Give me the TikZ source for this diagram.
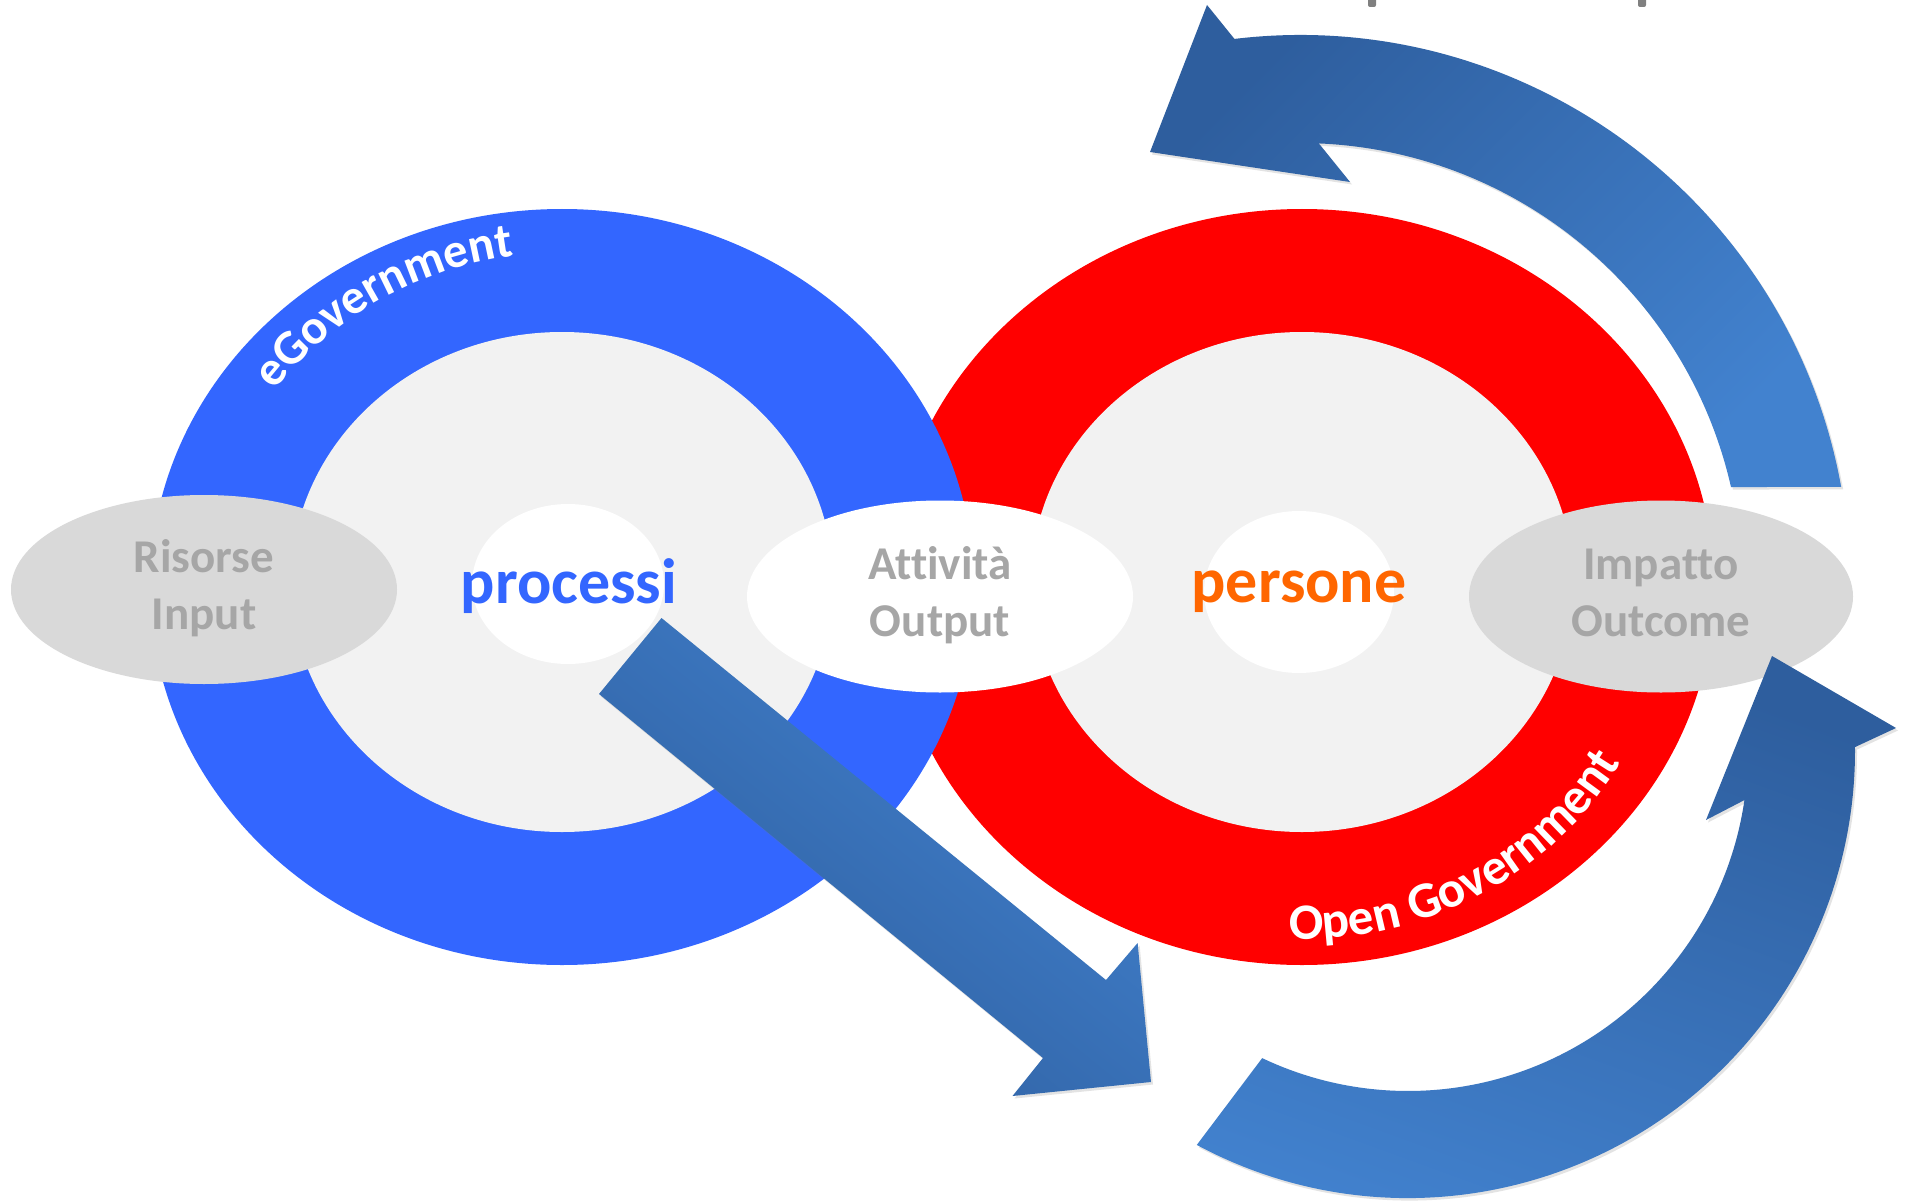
\documentclass[tikz,border=0pt]{standalone}
\usepackage{fontspec}
\setmainfont{Carlito}[Ligatures=NoCommon]
\usetikzlibrary{shapes.geometric,decorations.text,shadows}
\definecolor{ringblue}{HTML}{3366FF}
\definecolor{ringred}{HTML}{FF0000}
\definecolor{innergray}{HTML}{F2F2F2}
\definecolor{sidegray}{HTML}{D9D9D9}
\definecolor{labelgray}{HTML}{A6A6A6}
\definecolor{persorange}{HTML}{FF6600}
\definecolor{arrdark}{HTML}{2E5E9E}
\definecolor{arrlight}{HTML}{4282CF}
\definecolor{descgray}{HTML}{808080}
\newcommand\rglabelfont{\fontsize{49}{49}\selectfont\bfseries\color{white}}
\newcommand\rglabelfontb{\fontsize{51}{51}\selectfont\bfseries\color{white}}
\begin{document}
\begin{tikzpicture}[x=1pt,y=1pt,
  ell/.style={ellipse, inner sep=0pt, outer sep=0pt},
  sidetext/.style={ell, align=center, text=labelgray, font=\fontsize{47}{57}\selectfont\bfseries},
  centertext/.style={anchor=base, inner sep=0pt, font=\fontsize{64}{64}\selectfont\bfseries},
  bigarrow/.style={drop shadow={shadow xshift=2pt, shadow yshift=-2.5pt, opacity=0.22}},
]
\useasboundingbox (0,-1201) rectangle (1908,0);
\fill[white] (0,-1201) rectangle (1908,0);

% cut-off text marks at the top edge
\fill[descgray, rounded corners=2pt] (1368,-7) rectangle (1376,3);
\fill[descgray, rounded corners=2pt] (1638,-7) rectangle (1646,3);

% rings
\node[ell, fill=ringred, minimum width=824pt, minimum height=756pt] (redout) at (1302,-587) {};
\node[ell, fill=innergray, minimum width=542pt, minimum height=500pt] (redin) at (1302,-582) {};
\node[ell, fill=ringblue, minimum width=824pt, minimum height=756pt] (blueout) at (562,-587) {};
\node[ell, fill=innergray, minimum width=542pt, minimum height=500pt] (bluein) at (562,-582) {};

% inner white ellipses
\node[ell, fill=white, minimum width=192pt, minimum height=160pt] (proc) at (568,-584) {};
\node[ell, fill=white, minimum width=190pt, minimum height=162pt] (pers) at (1299,-592) {};

% side ellipses
\node[sidetext, fill=sidegray, minimum width=386pt, minimum height=189pt] (ris) at (204,-589.5) {\strut Risorse\\\strut Input};
\node[sidetext, fill=white, minimum width=386pt, minimum height=192pt] (att) at (940,-596.5) {\strut Attività\\\strut Output};
\node[sidetext, fill=sidegray, minimum width=384pt, minimum height=192pt] (imp) at (1661,-596.5) {\strut Impatto\\\strut Outcome};

% center words
\node[centertext, text=ringblue] (proctxt) at (569,-603) {processi};
\node[centertext, text=persorange] (perstxt) at (1299,-602) {persone};

% ring labels
\path[decorate, decoration={text along path, text={|\rglabelfont|eGovernment}}]
  (562,-587) ++(144:355 and 334) arc[start angle=144, end angle=40, x radius=355, y radius=334];
\path[decorate, decoration={text along path, text={|\rglabelfontb|Open Government}}]
  (1302,-587) ++(-92:368 and 352) arc[start angle=-92, end angle=15, x radius=368, y radius=352];

% straight arrow
\path[bigarrow, top color=arrlight, bottom color=arrdark, shading angle=-39]
  (661.5,-618) -- (1106,-980) -- (1137.6,-943) -- (1151,-1082) -- (1012.5,-1096)
  -- (1043,-1058) -- (599,-694) -- cycle;

% top curved arrow
\path[bigarrow, top color=arrdark, bottom color=arrlight, shading angle=45]
  ([shift={(1300,-585)}]96.85:550) arc[start angle=96.85, end angle=10.27, radius=550]
  -- ([shift={(1300,-585)}]12.81:442) arc[start angle=12.81, end angle=87.56, radius=442]
  -- (1350,-182) -- (1150,-152) -- (1207,-5) -- cycle;

% bottom curved arrow
\path[bigarrow, top color=arrdark, bottom color=arrlight, shading angle=-20]
  ([shift={(1408,-751)}]241.8:447) arc[start angle=241.8, end angle=360.5, radius=447]
  -- (1896,-728) -- (1772,-656) -- (1706,-820)
  -- ([shift={(1408,-751)}]-8.3:340) arc[start angle=-8.3, end angle=-115.4, radius=340]
  -- cycle;
\end{tikzpicture}
\end{document}
